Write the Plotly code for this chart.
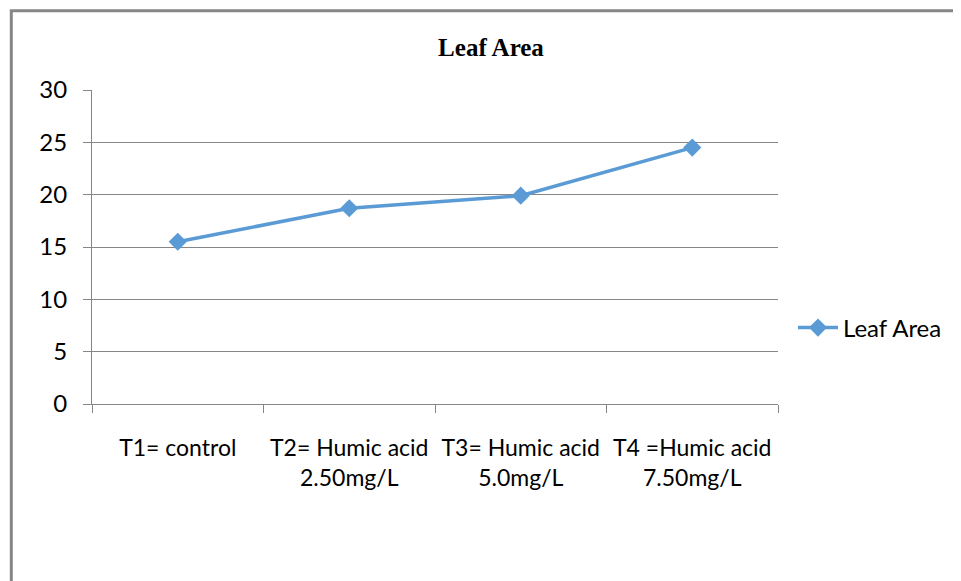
import plotly.graph_objects as go

cat_keys = ["T1", "T2", "T3", "T4"]
tick_labels = ["T1= control", "T2= Humic acid<br>2.50mg/L", "T3= Humic acid<br>5.0mg/L", "T4 =Humic acid<br>7.50mg/L"]
leaf_area = [15.5, 18.7, 19.9, 24.5]
y_ticks = [0, 5, 10, 15, 20, 25, 30]

blue = "#5B9BD5"
gray = "#868686"
font_family = "Lato, 'Open Sans', sans-serif"

# page body adds an 8px offset; work in that shifted frame
OFF = 8
W, H = 961 - OFF, 581 - OFF
L, R, T, B = 92 - OFF, 778 - OFF, 90 - OFF, 404 - OFF

fig = go.Figure()
fig.add_trace(go.Scatter(
    x=cat_keys, y=leaf_area, mode="lines+markers", name="Leaf Area",
    line=dict(color=blue, width=3.5),
    marker=dict(symbol="diamond", size=14, color=blue),
))

fig.update_layout(
    width=W, height=H,
    margin=dict(l=L, r=W - R, t=T, b=H - B, pad=0),
    paper_bgcolor="white", plot_bgcolor="white",
    font=dict(family=font_family, size=23, color="black"),
    title=dict(text="<b>Leaf Area</b>", x=(491 - OFF) / W, xanchor="center",
               y=1 - (47.5 - OFF) / H, yanchor="middle",
               font=dict(family="'Liberation Serif', 'DejaVu Serif', serif", size=25, color="black")),
    showlegend=True,
    legend=dict(x=(785 - L) / (R - L), xanchor="left",
                y=(B - (328 - OFF)) / (B - T), yanchor="middle",
                font=dict(family=font_family, size=24, color="black"),
                bgcolor="rgba(0,0,0,0)", itemwidth=40),
)

fig.update_xaxes(
    type="category", categoryorder="array", categoryarray=cat_keys,
    tickvals=cat_keys, ticktext=tick_labels, tickangle=0,
    showgrid=False, showline=True, linecolor=gray, linewidth=1,
    ticks="outside", ticklen=8, tickcolor=gray, tickson="boundaries",
    ticklabelstandoff=23, range=[-0.5, 3.5],
    tickfont=dict(family=font_family, size=23, color="black"),
)
fig.update_yaxes(
    range=[0, 30], tickvals=y_ticks, showgrid=True, gridcolor=gray, gridwidth=1,
    showline=True, linecolor=gray, linewidth=1,
    ticks="outside", ticklen=8, tickcolor=gray, zeroline=False,
    ticklabelstandoff=11,
    tickfont=dict(family=font_family, size=24, color="black"),
)

# outer chart border (runs past the right and bottom edges)
fig.add_shape(type="rect", xref="paper", yref="paper",
              x0=(11.3 - OFF - L) / (R - L), x1=(W + 20 - L) / (R - L),
              y0=(B - (H + 20)) / (B - T), y1=(B - (10.7 - OFF)) / (B - T),
              line=dict(color=gray, width=3), fillcolor="rgba(0,0,0,0)", layer="below")

fig.write_html("out.html")
